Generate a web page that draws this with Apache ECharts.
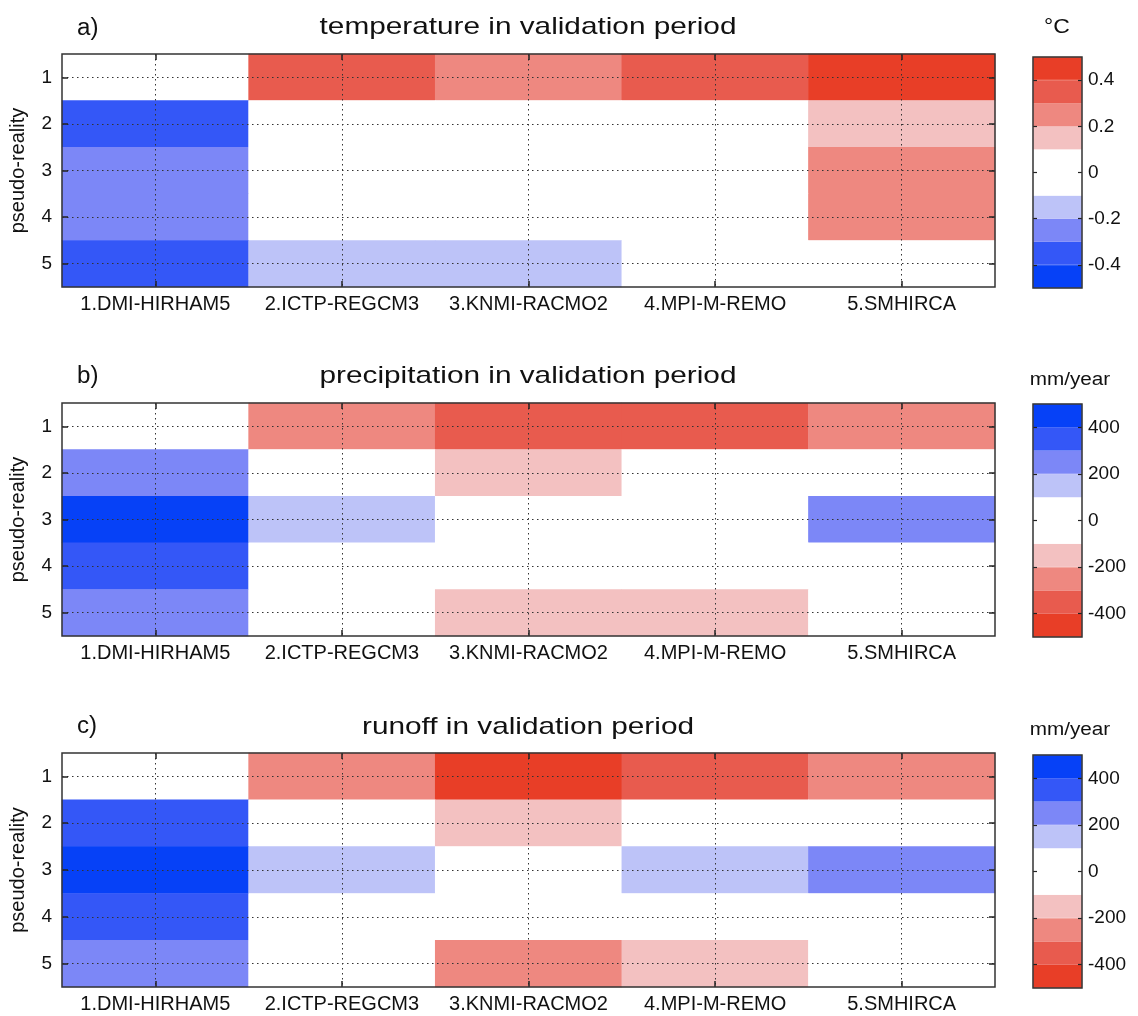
<!DOCTYPE html>
<html>
<head>
<meta charset="utf-8">
<script src="https://cdn.jsdelivr.net/npm/echarts@6/dist/echarts.min.js"></script>
<style>
  html, body { margin: 0; padding: 0; background: #fff; }
  #chart { width: 1138px; height: 1016px; }
</style>
</head>
<body>
<div id="chart"></div>
<script>
// Regional climate models (columns) and pseudo-reality runs (rows)
const models = ['1.DMI-HIRHAM5', '2.ICTP-REGCM3', '3.KNMI-RACMO2', '4.MPI-M-REMO', '5.SMHIRCA'];
const pseudoReality = ['1', '2', '3', '4', '5'];

// Bias in the validation period, one row per pseudo-reality, one value per model
const temperatureBias = [   // °C
  [0.0, 0.35, 0.25, 0.35, 0.45],
  [-0.35, 0.0, 0.0, 0.0, 0.15],
  [-0.25, 0.0, 0.0, 0.0, 0.25],
  [-0.25, 0.0, 0.0, 0.0, 0.25],
  [-0.35, -0.15, -0.15, 0.0, 0.0]
];
const precipitationBias = [ // mm/year
  [0, -250, -350, -350, -250],
  [250, 0, -150, 0, 0],
  [450, 150, 0, 0, 250],
  [350, 0, 0, 0, 0],
  [250, 0, -150, -150, 0]
];
const runoffBias = [        // mm/year
  [0, -250, -450, -350, -250],
  [350, 0, -150, 0, 0],
  [450, 150, 0, 150, 250],
  [350, 0, 0, 0, 0],
  [250, 0, -250, -150, 0]
];

// Colour class boundaries and colour-bar tick labels
const tempLevels = [-0.5, -0.4, -0.3, -0.2, -0.1, 0.1, 0.2, 0.3, 0.4, 0.5];
const tempTicks = [-0.4, -0.2, 0, 0.2, 0.4];
const waterLevels = [-500, -400, -300, -200, -100, 100, 200, 300, 400, 500];
const waterTicks = [-400, -200, 0, 200, 400];

const panelTitles = ['temperature in validation period', 'precipitation in validation period', 'runoff in validation period'];
const panelLetters = ['a)', 'b)', 'c)'];
const panelUnits = ['°C', 'mm/year', 'mm/year'];

// Diverging palette, lowest class first
const warmToCold = ['#E83E27', '#E85B4E', '#EE8880', '#F3C1C1', '#FFFFFF', '#BDC3F8', '#7C87F7', '#3457F7', '#0641F7'];
const coldToWarm = warmToCold.slice().reverse();

const FONT = "'Liberation Sans', Arial, Helvetica, sans-serif";
const TXT = '#111';

const panels = [
  { data: temperatureBias, levels: tempLevels, ticks: tempTicks, colors: coldToWarm },
  { data: precipitationBias, levels: waterLevels, ticks: waterTicks, colors: warmToCold },
  { data: runoffBias, levels: waterLevels, ticks: waterTicks, colors: warmToCold }
];

const plotTop = [54, 403, 753];
const plotH = [233, 233, 234];
const barTop = [57, 404, 755];
const barH = [231, 233, 233];

const grid = [], xAxis = [], yAxis = [], series = [], visualMap = [], graphic = [];
const dotted = { show: true, lineStyle: { color: '#333', width: 1, type: [1.5, 3.5] } };
const tickStyle = { color: '#222', width: 1.5 };
const noLine = { show: false, onZero: false };

panels.forEach((p, i) => {
  // heatmap panel
  const gi = grid.length;
  grid.push({ left: 62, width: 933, top: plotTop[i], height: plotH[i], show: true,
    borderColor: '#333', borderWidth: 1.5, backgroundColor: 'transparent', z: 6 });
  const xi = xAxis.length;
  xAxis.push({ type: 'category', gridIndex: gi, data: models, position: 'bottom', z: 5,
    axisLine: noLine, splitLine: { show: false },
    axisTick: { show: true, inside: true, alignWithLabel: true, length: 6, lineStyle: tickStyle },
    axisLabel: { interval: 0, color: TXT, fontFamily: FONT, fontSize: 20, margin: 7 } });
  xAxis.push({ type: 'value', gridIndex: gi, position: 'top', min: -0.5, max: 4.5, z: 5,
    axisLine: noLine, axisLabel: { show: false },
    axisTick: { show: true, inside: true, length: 6, customValues: [0, 1, 2, 3, 4], lineStyle: tickStyle },
    splitLine: dotted });
  const yi = yAxis.length;
  yAxis.push({ type: 'category', gridIndex: gi, data: pseudoReality, inverse: true, position: 'left', z: 5,
    name: 'pseudo-reality', nameLocation: 'middle', nameRotate: 90, nameGap: 34,
    nameTextStyle: { color: TXT, fontFamily: FONT, fontSize: 20 },
    axisLine: noLine, splitLine: { show: false },
    axisTick: { show: true, inside: true, alignWithLabel: true, length: 6, lineStyle: tickStyle },
    axisLabel: { interval: 0, color: TXT, fontFamily: FONT, fontSize: 19, margin: 10 } });
  yAxis.push({ type: 'value', gridIndex: gi, position: 'right', min: -0.5, max: 4.5, inverse: true, z: 5,
    axisLine: noLine, axisLabel: { show: false },
    axisTick: { show: true, inside: true, length: 6, customValues: [0, 1, 2, 3, 4], lineStyle: tickStyle },
    splitLine: dotted });

  const cells = [];
  p.data.forEach((row, r) => row.forEach((v, c) => cells.push([c, r, v])));
  series.push({ type: 'heatmap', xAxisIndex: xi, yAxisIndex: yi, data: cells, z: 1,
    itemStyle: { borderWidth: 0 }, emphasis: { disabled: true }, silent: true });

  const pieces = [];
  for (let k = 0; k < p.colors.length; k++) {
    pieces.push({ gte: p.levels[k], lt: p.levels[k + 1], color: p.colors[k] });
  }
  visualMap.push({ type: 'piecewise', show: false, seriesIndex: series.length - 1, dimension: 2, pieces: pieces });
});

// colour bars
panels.forEach((p, i) => {
  const gi = grid.length;
  const lo = p.levels[0], hi = p.levels[p.levels.length - 1];
  grid.push({ left: 1033, width: 49, top: barTop[i], height: barH[i], show: true,
    borderColor: '#333', borderWidth: 1.5, backgroundColor: 'transparent', z: 6 });
  const xi = xAxis.length;
  xAxis.push({ type: 'category', gridIndex: gi, data: ['bar'], show: false });
  const yi = yAxis.length;
  yAxis.push({ type: 'value', gridIndex: gi, min: 0, max: hi - lo, show: false });
  yAxis.push({ type: 'value', gridIndex: gi, position: 'right', min: lo, max: hi, z: 5,
    axisLine: noLine, splitLine: { show: false },
    axisTick: { show: true, inside: true, length: 4, customValues: p.ticks, lineStyle: { color: '#222', width: 1.2 } },
    axisLabel: { customValues: p.ticks, color: TXT, fontFamily: FONT, fontSize: 19, margin: 6 } });
  yAxis.push({ type: 'value', gridIndex: gi, position: 'left', min: lo, max: hi, z: 5,
    axisLine: noLine, splitLine: { show: false }, axisLabel: { show: false },
    axisTick: { show: true, inside: true, length: 4, customValues: p.ticks, lineStyle: { color: '#222', width: 1.2 } } });
  for (let k = 0; k < p.colors.length; k++) {
    series.push({ type: 'bar', xAxisIndex: xi, yAxisIndex: yi, stack: 'cb' + i,
      barWidth: '100%', silent: true, z: 1,
      itemStyle: { color: p.colors[k], borderColor: p.colors[k], borderWidth: 0.6 },
      data: [p.levels[k + 1] - p.levels[k]] });
  }
});

// panel titles, letters and units
panels.forEach((p, i) => {
  graphic.push({ type: 'text', x: 528, y: [27, 376, 727][i], scaleX: 1.24, silent: true,
    style: { text: panelTitles[i], font: '24px ' + FONT, fill: TXT, textAlign: 'center', textVerticalAlign: 'middle' } });
  graphic.push({ type: 'text', x: 77, y: [29, 377, 727][i], scaleX: 1.05, silent: true,
    style: { text: panelLetters[i], font: '23px ' + FONT, fill: TXT, textAlign: 'left', textVerticalAlign: 'middle' } });
  graphic.push({ type: 'text', x: i === 0 ? 1057 : 1070, y: [27, 380, 730][i], scaleX: 1.15, silent: true,
    style: { text: panelUnits[i], font: (i === 0 ? '20px ' : '18px ') + FONT, fill: TXT, textAlign: 'center', textVerticalAlign: 'middle' } });
});

const chart = echarts.init(document.getElementById('chart'), null, { renderer: 'canvas' });
chart.setOption({
  animation: false,
  backgroundColor: '#fff',
  grid, xAxis, yAxis, series, visualMap, graphic
});
</script>
</body>
</html>
